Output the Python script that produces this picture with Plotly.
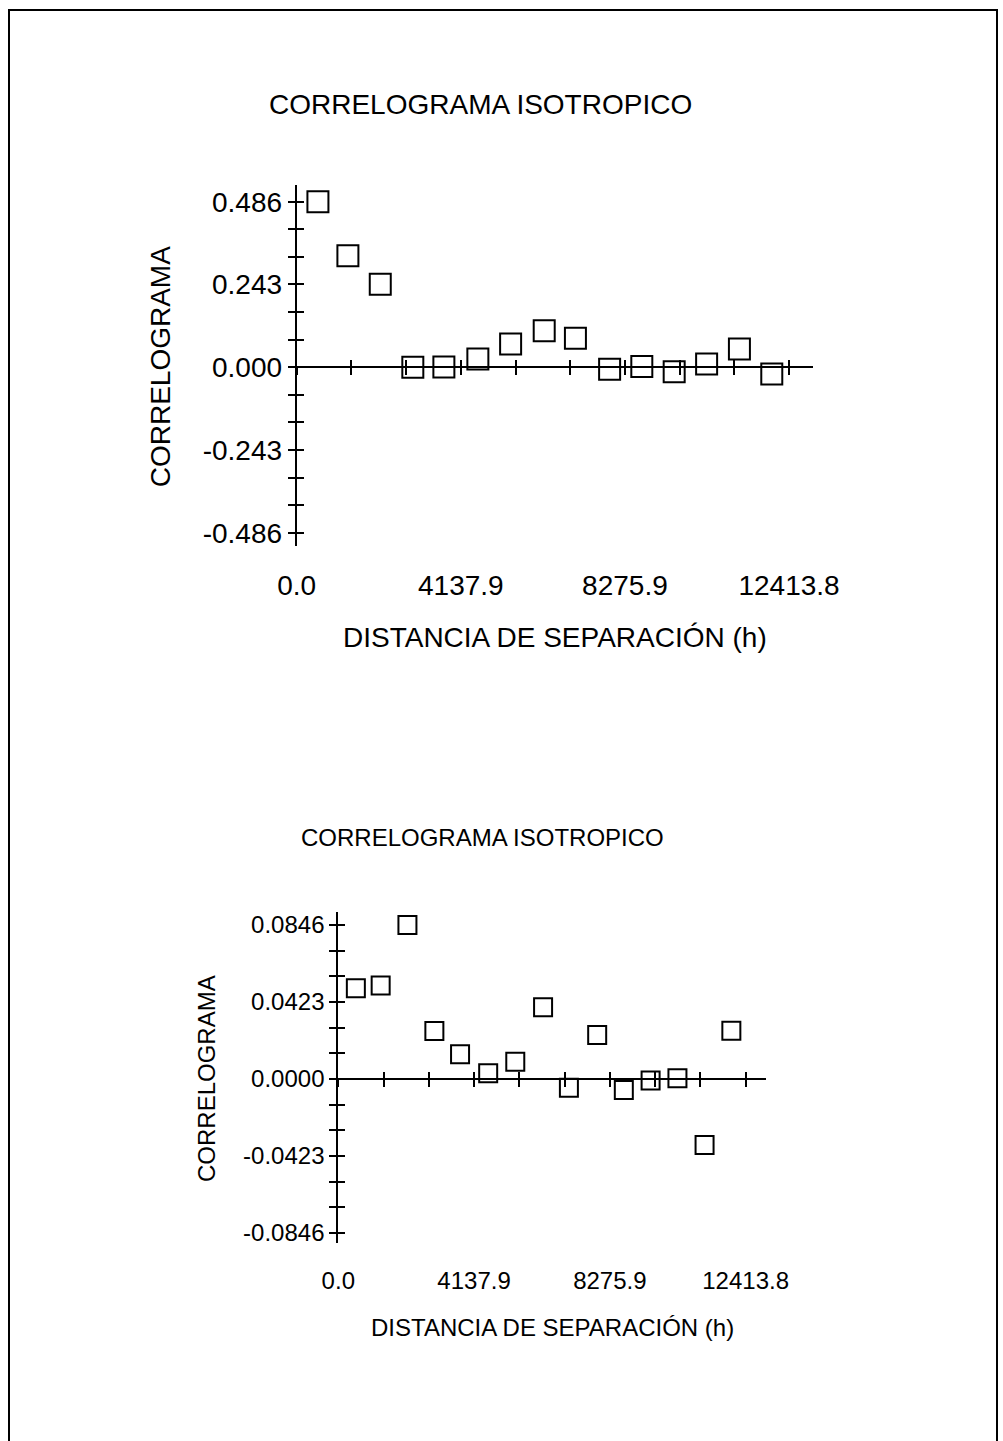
import plotly.graph_objects as go

W, H = 1003, 1441

# ---------------- data ----------------
lags = [535, 1291, 2107, 2928, 3711, 4568, 5394, 6241, 7028, 7890, 8702, 9518, 10336, 11163, 11979]
corr_top = [0.486, 0.327, 0.244, 0.000, 0.001, 0.024, 0.068, 0.107, 0.085, -0.006, 0.002, -0.013, 0.010, 0.054, -0.020]
corr_bot = [0.0498, 0.0513, 0.0846, 0.0264, 0.0136, 0.0031, 0.0095, 0.0394, -0.0048, 0.0242, -0.0060, -0.0009, 0.0004, -0.0363, 0.0265]

x_step = 1379.3
x_label_vals = [0.0, 4137.9, 8275.9, 12413.8]
x_label_text = ["0.0", "4137.9", "8275.9", "12413.8"]
y_top_labels = [-0.486, -0.243, 0.0, 0.243, 0.486]
y_top_text = ["-0.486", "-0.243", "0.000", "0.243", "0.486"]
y_bot_labels = [-0.0846, -0.0423, 0.0, 0.0423, 0.0846]
y_bot_text = ["-0.0846", "-0.0423", "0.0000", "0.0423", "0.0846"]
title_text = "CORRELOGRAMA ISOTROPICO"
xtitle_text = "DISTANCIA DE SEPARACIÓN (h)"
ytitle_text = "CORRELOGRAMA"

FONT = "Liberation Sans, Arial, sans-serif"


def px_x(p):
    return p / W


def px_y(p):
    return 1 - p / H


x_ticks = [x_step * k for k in range(10)]
x_range = [0, 13026]

fig = go.Figure()

panels = [
    dict(xa="x", ya="y", xo=("x3", "x4"), yo="y3", data=corr_top, ylab=y_top_labels, ytxt=y_top_text,
         ystep=0.081, yrange=[-0.5245, 0.535], xdom=(296.7, 813.3), ydom=(185, 546), zero=367.3,
         fs=28, ms=21, title_xy=(480, 104), xt_y=637.8, yt_x=160, xlab_standoff=20, ylab_standoff=0),
    dict(xa="x2", ya="y2", xo=("x5", "x6"), yo="y4", data=corr_bot, ylab=y_bot_labels, ytxt=y_bot_text,
         ystep=0.0141, yrange=[-0.0903, 0.0919], xdom=(338.3, 765.7), ydom=(911.7, 1243.3), zero=1079,
         fs=24, ms=18, title_xy=(482, 837), xt_y=1327.5, yt_x=206, xlab_standoff=21, ylab_standoff=0),
]

layout = dict(
    template="none",
    width=W, height=H, autosize=False,
    margin=dict(l=0, r=0, t=0, b=0, pad=0),
    paper_bgcolor="white", plot_bgcolor="rgba(0,0,0,0)",
    showlegend=False,
    font=dict(family=FONT, color="black"),
    annotations=[], shapes=[],
)


def axkey(a):
    return ("xaxis" if a[0] == "x" else "yaxis") + a[1:]


for p in panels:
    fig.add_trace(go.Scatter(
        x=lags, y=p["data"], mode="markers", xaxis=p["xa"], yaxis=p["ya"],
        marker=dict(symbol="square-open", size=p["ms"], color="black", line=dict(width=2, color="black")),
        hoverinfo="x+y", cliponaxis=False,
    ))
    # empty traces so the overlaying axes get drawn
    for a in p["xo"]:
        fig.add_trace(go.Scatter(x=[None], y=[None], xaxis=a, yaxis=p["ya"], mode="markers",
                                 hoverinfo="skip", showlegend=False))
    fig.add_trace(go.Scatter(x=[None], y=[None], xaxis=p["xa"], yaxis=p["yo"], mode="markers",
                             hoverinfo="skip", showlegend=False))

    xd = [px_x(p["xdom"][0]), px_x(p["xdom"][1])]
    yd = [px_y(p["ydom"][1]), px_y(p["ydom"][0])]
    fs = p["fs"]
    yticks = [round(p["ystep"] * k, 6) for k in range(-6, 7)]
    ytext = []
    for v in yticks:
        t = ""
        for lv, lt in zip(p["ylab"], p["ytxt"]):
            if abs(v - lv) < 1e-4:
                t = lt
        ytext.append(t)
    layout[axkey(p["xa"])] = dict(
        domain=xd, range=x_range, anchor=p["ya"], showline=False, showgrid=False, zeroline=False,
        automargin=False, ticks="", tickmode="array", tickvals=x_label_vals, ticktext=x_label_text,
        tickfont=dict(size=fs, family=FONT, color="black"), ticklabelstandoff=p["xlab_standoff"],
    )
    zero_pos = px_y(p["zero"])
    for a, side in zip(p["xo"], ["outside", "inside"]):
        layout[axkey(a)] = dict(
            overlaying=p["xa"], anchor="free", position=zero_pos, range=x_range, automargin=False,
            showline=(side == "outside"), linewidth=2, linecolor="black",
            showgrid=False, zeroline=False, showticklabels=False,
            ticks=side, ticklen=7, tickwidth=2, tickcolor="black",
            tickmode="array", tickvals=x_ticks,
        )
    layout[axkey(p["ya"])] = dict(
        domain=yd, range=p["yrange"], anchor=p["xa"], showline=True, linewidth=2, linecolor="black",
        automargin=False, showgrid=False, zeroline=False, ticks="outside", ticklen=7, tickwidth=2,
        tickcolor="black", tickmode="array", tickvals=yticks, ticktext=ytext,
        tickfont=dict(size=fs, family=FONT, color="black"), ticklabelstandoff=p["ylab_standoff"],
    )
    layout[axkey(p["yo"])] = dict(
        overlaying=p["ya"], anchor=p["xa"], range=p["yrange"], showline=False, showgrid=False,
        automargin=False, zeroline=False, showticklabels=False, ticks="inside", ticklen=7, tickwidth=2,
        tickcolor="black", tickmode="array", tickvals=yticks,
    )
    layout["annotations"] += [
        dict(text=title_text, xref="paper", yref="paper", x=px_x(p["title_xy"][0]), y=px_y(p["title_xy"][1]),
             xanchor="center", yanchor="middle", showarrow=False, font=dict(size=fs, family=FONT, color="black")),
        dict(text=xtitle_text, xref="paper", yref="paper", x=(xd[0] + xd[1]) / 2, y=px_y(p["xt_y"]),
             xanchor="center", yanchor="middle", showarrow=False, font=dict(size=fs, family=FONT, color="black")),
        dict(text=ytitle_text, xref="paper", yref="paper", x=px_x(p["yt_x"]), y=zero_pos,
             xanchor="center", yanchor="middle", textangle=-90, showarrow=False,
             font=dict(size=fs, family=FONT, color="black")),
    ]

# outer frame
layout["shapes"].append(dict(type="rect", xref="paper", yref="paper",
                             x0=px_x(9), x1=px_x(997), y0=-0.02, y1=px_y(10),
                             line=dict(color="black", width=2), fillcolor="rgba(0,0,0,0)", layer="below"))

fig.update_layout(**layout)
fig.write_html("out.html")
